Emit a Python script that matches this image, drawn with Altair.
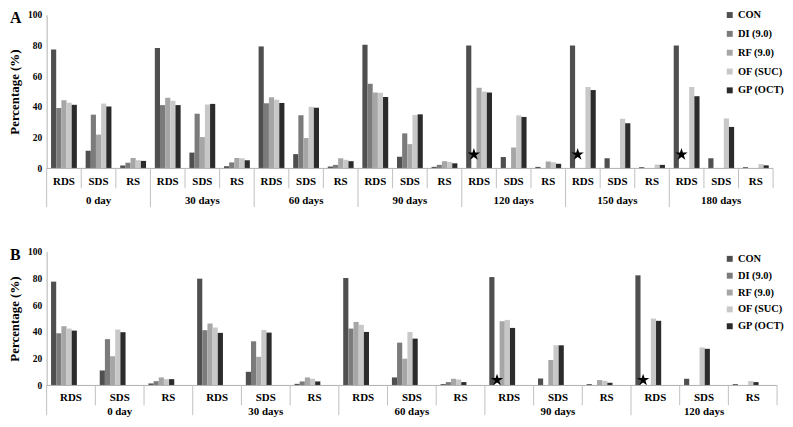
import altair as alt
import pandas as pd

# ---------------- data ----------------
stages = ["RDS", "SDS", "RS"]
treatments = ["CON", "DI (9.0)", "RF (9.0)", "OF (SUC)", "GP (OCT)"]
colors = ["#4f4f4f", "#7b7b7b", "#a6a6a6", "#c8c8c8", "#2b2b2b"]

# Panel A (values per time: RDS, SDS, RS)
A_times = ["0 day", "30 days", "60 days", "90 days", "120 days", "150 days", "180 days"]
A_CON = [77.4, 11.5, 1.9, 78.4, 10.3, 1.4, 79.4, 9.3, 1.2, 80.5, 7.6, 1.0, 80.0, 7.4, 1.0, 80.0, 6.6, 0.8, 80.0, 6.6, 0.8]
A_DI = [39.3, 35.0, 3.7, 41.2, 35.6, 3.9, 42.4, 34.6, 2.3, 55.1, 22.8, 2.3, 0, 0, 0, 0, 0, 0, 0, 0, 0]
A_RF = [44.4, 22.0, 6.8, 46.0, 20.4, 6.8, 46.3, 19.8, 6.6, 49.4, 15.8, 4.7, 52.5, 13.6, 4.5, 0, 0, 0, 0, 0, 0]
A_OF = [42.8, 42.2, 5.3, 44.0, 41.6, 6.6, 44.7, 40.1, 5.6, 49.2, 34.8, 4.2, 50.0, 34.5, 4.0, 53.0, 32.3, 2.5, 53.0, 32.5, 2.8]
A_GP = [41.4, 40.3, 4.9, 41.2, 42.0, 5.3, 42.6, 39.5, 4.7, 46.5, 35.2, 3.3, 49.4, 33.5, 3.0, 51.0, 29.4, 2.3, 47.0, 27.0, 2.0]
A_star_times = ["120 days", "150 days", "180 days"]
A_star_value = [9, 9, 9]

# Panel B
B_times = ["0 day", "30 days", "60 days", "90 days", "120 days"]
B_CON = [77.6, 11.2, 1.5, 79.8, 10.2, 1.2, 80.3, 6.0, 1.0, 81.0, 5.2, 1.0, 82.3, 5.0, 1.0]
B_DI = [39.0, 34.6, 3.2, 41.3, 33.0, 3.0, 42.5, 32.0, 2.5, 0, 0, 0, 0, 0, 0]
B_RF = [44.3, 21.9, 6.0, 46.3, 21.4, 6.0, 47.5, 20.0, 5.0, 48.0, 19.0, 4.0, 0, 0, 0]
B_OF = [42.5, 41.8, 4.7, 43.3, 41.5, 5.0, 45.3, 40.0, 4.5, 49.0, 30.0, 3.5, 50.0, 28.4, 3.3]
B_GP = [41.0, 39.8, 4.7, 39.3, 39.5, 3.0, 40.0, 35.0, 2.5, 43.0, 30.0, 2.0, 48.3, 27.4, 2.5]
B_star_times = ["90 days", "120 days"]
B_star_value = [4, 4]

y_ticks = [0, 20, 40, 60, 80, 100]

FONT = "Liberation Serif"
STAR = ("M0,-1L0.2245,-0.309L0.9511,-0.309L0.3633,0.118L0.5878,0.809L0,0.382"
        "L-0.5878,0.809L-0.3633,0.118L-0.9511,-0.309L-0.2245,-0.309Z")
RCOL = "#c0c0c0"


def panel(letter, times, series, star_times, star_vals, width, height, po,
          legend_x, legend_y, row_pad, slabel_dy, glabel_dy, outer_len):
    keys = [f"{t}|{s}" for t in times for s in stages]
    rows = []
    for ti, t in enumerate(times):
        for si, s in enumerate(stages):
            for tr, arr in zip(treatments, series):
                v = arr[ti * 3 + si]
                if v > 0:
                    rows.append({"key": f"{t}|{s}", "treatment": tr, "value": v})
    df = pd.DataFrame(rows)

    xscale = alt.Scale(domain=keys, paddingInner=0, paddingOuter=0, round=False)
    yscale = alt.Scale(domain=[0, 100])
    off_scale = alt.Scale(domain=treatments, paddingInner=0, paddingOuter=po,
                          round=False)
    yaxis = alt.Axis(values=y_ticks, title="Percentage (%)", labelOverlap=False,
                     grid=False, ticks=False, domainColor="#b0b0b0",
                     labelFont=FONT, labelFontSize=9.5, labelFontWeight="bold",
                     labelColor="black", labelPadding=5,
                     titleFont=FONT, titleFontSize=13, titleFontWeight="bold",
                     titleColor="black", titlePadding=6)

    bars = alt.Chart(df).mark_bar().encode(
        x=alt.X("key:N", scale=xscale, sort=keys, axis=None),
        xOffset=alt.XOffset("treatment:N", scale=off_scale, sort=treatments),
        y=alt.Y("value:Q", scale=yscale, axis=yaxis),
        color=alt.Color("treatment:N", sort=treatments,
                        scale=alt.Scale(domain=treatments, range=colors),
                        legend=alt.Legend(title=None, orient="none", legendX=legend_x,
                                          legendY=legend_y, symbolType="square",
                                          symbolSize=36, symbolStrokeWidth=0,
                                          labelFont=FONT, labelFontSize=10.5,
                                          labelFontWeight="bold", labelColor="black",
                                          rowPadding=row_pad, labelOffset=3, padding=0)),
    )

    base = alt.Chart(pd.DataFrame({"k": [0]}))
    domain = base.mark_rule(color="#b0b0b0", strokeWidth=1).encode(
        x=alt.value(0), x2=alt.value(width), y=alt.value(height))

    inner = pd.DataFrame({"key": [f"{t}|{s}" for t in times for s in ["SDS", "RS"]]})
    outer = pd.DataFrame({"key": [f"{t}|RDS" for t in times]})
    last = pd.DataFrame({"key": [keys[-1]]})
    xr = lambda bp: alt.X("key:N", scale=xscale, axis=None, bandPosition=bp)
    r_inner = alt.Chart(inner).mark_rule(color=RCOL, strokeWidth=1).encode(
        x=xr(0), y=alt.value(height), y2=alt.value(height + 20))
    r_outer = alt.Chart(outer).mark_rule(color=RCOL, strokeWidth=1).encode(
        x=xr(0), y=alt.value(height), y2=alt.value(height + outer_len))
    r_last = alt.Chart(last).mark_rule(color=RCOL, strokeWidth=1).encode(
        x=xr(1), y=alt.value(height), y2=alt.value(height + 20))

    sub = pd.DataFrame({"key": keys, "label": [k.split("|")[1] for k in keys]})
    slabels = alt.Chart(sub).mark_text(font=FONT, fontSize=11, fontWeight="bold",
                                       color="black", baseline="middle").encode(
        x=alt.X("key:N", scale=xscale, axis=None), y=alt.value(height + slabel_dy),
        text="label:N")

    grp = pd.DataFrame({"key": [f"{t}|SDS" for t in times], "label": times})
    glabels = alt.Chart(grp).mark_text(font=FONT, fontSize=11, fontWeight="bold",
                                       color="black", baseline="middle").encode(
        x=alt.X("key:N", scale=xscale, axis=None), y=alt.value(height + glabel_dy),
        text="label:N")

    sdf = pd.DataFrame({"key": [f"{t}|RDS" for t in star_times],
                        "treatment": ["DI (9.0)"] * len(star_times), "value": star_vals})
    stars = alt.Chart(sdf).mark_point(shape=STAR, filled=True, color="black",
                                      opacity=1, size=170).encode(
        x=alt.X("key:N", scale=xscale, axis=None),
        xOffset=alt.XOffset("treatment:N", scale=off_scale),
        y=alt.Y("value:Q", scale=yscale, axis=yaxis))

    let = base.mark_text(
        font=FONT, fontSize=16, fontWeight="bold", color="black",
        align="left", baseline="middle").encode(
        x=alt.value(-37), y=alt.value(3), text=alt.value(letter))

    return alt.layer(bars, domain, r_inner, r_outer, r_last, slabels, glabels,
                     stars, let).properties(width=width, height=height)


pA = panel("A", A_times, [A_CON, A_DI, A_RF, A_OF, A_GP], A_star_times, A_star_value,
           733, 155, 0.85, 684, -5, 8, 14, 33, 39)
pB = panel("B", B_times, [B_CON, B_DI, B_RF, B_OF, B_GP], B_star_times, B_star_value,
           737, 135, 0.75, 684, 2, 6, 13, 27, 30)

chart = alt.vconcat(pA, pB, spacing=39).resolve_scale(
    color="independent").resolve_legend(color="independent").properties(
    padding=0).configure_view(stroke=None)

chart.save("out.html", embed_options={"renderer": "svg", "actions": False})
